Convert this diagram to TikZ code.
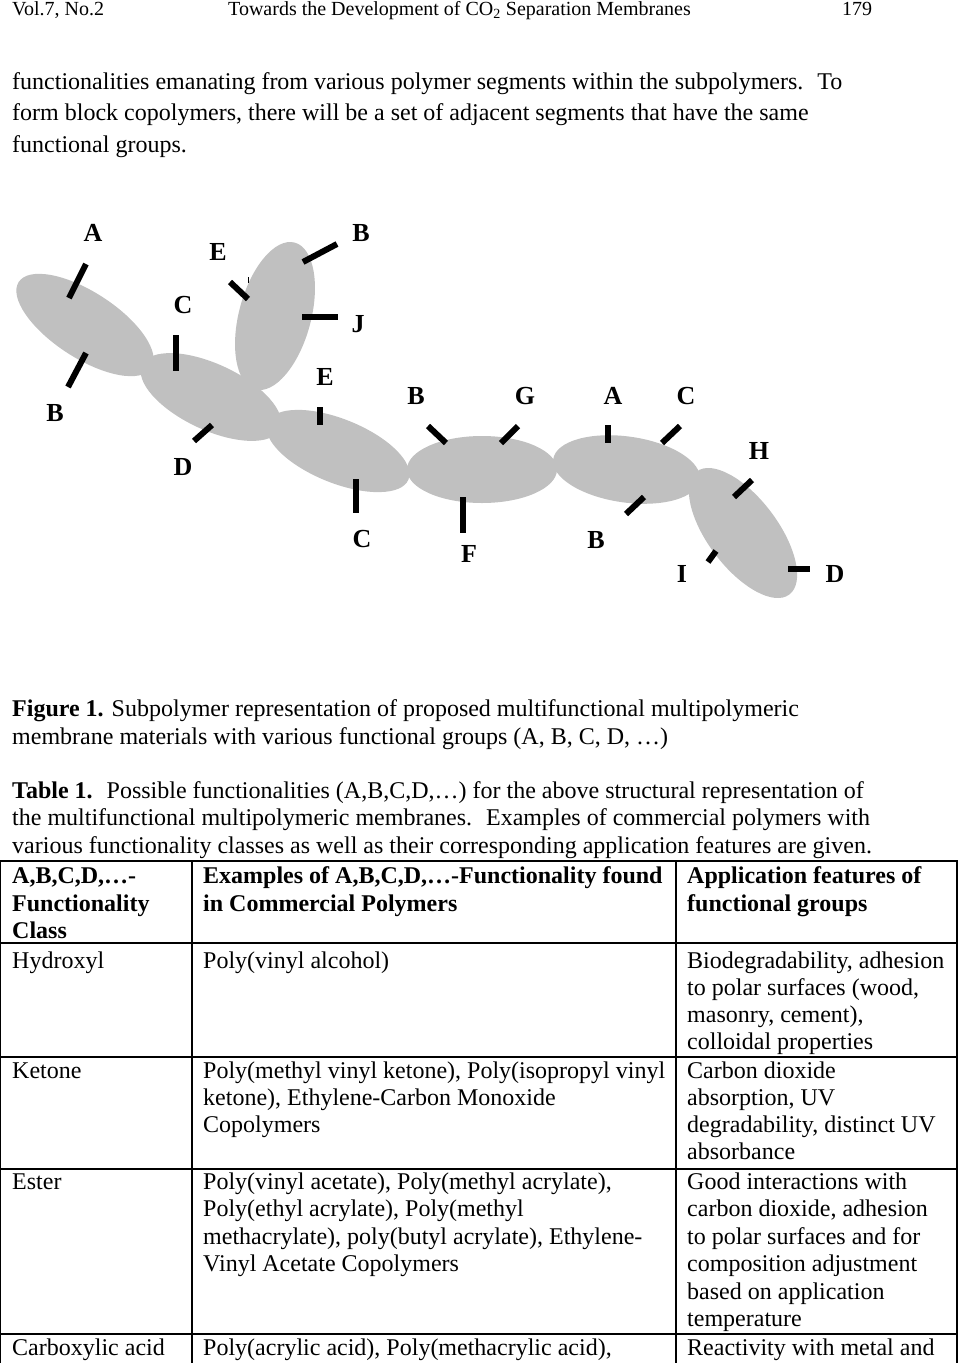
\documentclass[tikz,border=0pt]{standalone}
\usepackage{fontspec}
\setmainfont{Liberation Serif}
\usetikzlibrary{shapes.geometric}
\definecolor{seggray}{HTML}{C0C0C0}
\tikzset{
  body/.style={anchor=base west, inner sep=0pt, font=\fontsize{24}{27}\selectfont},
  bodyb/.style={body, font=\fontsize{24}{27}\selectfont\bfseries},
  hdr/.style={anchor=base west, inner sep=0pt, font=\fontsize{20}{23}\selectfont},
  lbl/.style={inner sep=0pt, font=\fontsize{26}{30}\selectfont\bfseries},
  seg/.style={ellipse, fill=seggray, draw=none, inner sep=0pt},
  stick/.style={line width=6pt, black},
  tgrid/.style={line width=1.3pt, black},
}
\begin{document}
\begin{tikzpicture}[x=1pt,y=-1pt]
\useasboundingbox (0,0) rectangle (958,1363);
\fill[white] (0,0) rectangle (958,1363);

% header
\node[hdr] (h1) at (12,15) {Vol.7, No.2};
\node[hdr] (h2) at (228,15) {Towards the Development of CO\textsubscript{2} Separation Membranes};
\node[hdr] (h3) at (842,15) {179};

% paragraph
\node[body] (p1) at (12,89) {functionalities emanating from various polymer segments within the subpolymers.~ To};
\node[body] (p2) at (12,120) {form block copolymers, there will be a set of adjacent segments that have the same};
\node[body] (p3) at (12,152) {functional groups.};

% segments
\node[seg, minimum width=158pt, minimum height=66pt, rotate=-33] (e1) at (85,325) {};
\node[seg, minimum width=152pt, minimum height=66pt, rotate=-25] (e2) at (211,397) {};
\node[seg, minimum width=152pt, minimum height=72pt, rotate=75] (e3) at (275,316) {};
\node[seg, minimum width=152pt, minimum height=64pt, rotate=-22] (e4) at (338,451) {};
\node[seg, minimum width=150pt, minimum height=67pt] (e5) at (482,469.5) {};
\node[seg, minimum width=148pt, minimum height=66pt, rotate=-8] (e6) at (626.5,469.5) {};
\node[seg, minimum width=154pt, minimum height=70pt, rotate=-53] (e7) at (743,533) {};

% sticks
\draw[stick] (69,298) -- (86,264);
\draw[stick] (68,387) -- (86,353);
\draw[stick] (176,335) -- (176,371);
\draw[stick] (194,441) -- (212,425);
\draw[stick] (230,282) -- (248,299);
\draw[line width=0.8pt] (248,277) -- (248,283);
\draw[stick] (303,262) -- (337,244);
\draw[stick] (302,317) -- (338,317);
\draw[stick] (320,407) -- (320,425);
\draw[stick] (356,479) -- (356,513);
\draw[stick] (428,426) -- (446,443);
\draw[stick] (501,443) -- (518,426);
\draw[stick] (608,425) -- (608,443);
\draw[stick] (662,443) -- (680,426);
\draw[stick] (463,497) -- (463,533);
\draw[stick] (626,514) -- (644,497);
\draw[stick] (734,497) -- (752,480);
\draw[stick] (708,562) -- (716,551);
\draw[stick] (788,569) -- (810,569);

% labels
\node[lbl] (lA1) at (93,233) {A};
\node[lbl] (lE1) at (218,252) {E};
\node[lbl] (lB1) at (361,233) {B};
\node[lbl] (lC1) at (183,305) {C};
\node[lbl] (lJ) at (358,324) {J};
\node[lbl] (lE2) at (325,377) {E};
\node[lbl] (lB2) at (55,413) {B};
\node[lbl] (lD1) at (183,467) {D};
\node[lbl] (lB3) at (416,396) {B};
\node[lbl] (lG) at (525,396) {G};
\node[lbl] (lA2) at (613,396) {A};
\node[lbl] (lC2) at (686,396) {C};
\node[lbl] (lH) at (759,451) {H};
\node[lbl] (lC3) at (362,539) {C};
\node[lbl] (lF) at (469,554) {F};
\node[lbl] (lB4) at (596,540) {B};
\node[lbl] (lI) at (682,574) {I};
\node[lbl] (lD2) at (835,574) {D};

% captions
\node[body] (f1) at (12,716) {\textbf{Figure 1.} Subpolymer representation of proposed multifunctional multipolymeric};
\node[body] (f2) at (12,744) {membrane materials with various functional groups (A, B, C, D, …)};
\node[body] (t1) at (12,798) {\textbf{Table 1.}~ Possible functionalities (A,B,C,D,…) for the above structural representation of};
\node[body] (t2) at (12,825) {the multifunctional multipolymeric membranes.~ Examples of commercial polymers with};
\node[body] (t3) at (12,853) {various functionality classes as well as their corresponding application features are given.};

% table grid
\draw[tgrid] (0.7,1363) -- (0.7,861) -- (957,861) -- (957,1363);
\draw[tgrid] (192,861) -- (192,1363);
\draw[tgrid] (676,861) -- (676,1363);
\draw[tgrid] (0,943) -- (958,943);
\draw[tgrid] (0,1057) -- (958,1057);
\draw[tgrid] (0,1169) -- (958,1169);
\draw[tgrid] (0,1334) -- (958,1334);

% header row
\node[bodyb] (c11a) at (12,883) {A,B,C,D,…-};
\node[bodyb] (c11b) at (12,911) {Functionality};
\node[bodyb] (c11c) at (12,938) {Class};
\node[bodyb] (c12a) at (203,883) {Examples of A,B,C,D,…-Functionality found};
\node[bodyb] (c12b) at (203,911) {in Commercial Polymers};
\node[bodyb] (c13a) at (687,883) {Application features of};
\node[bodyb] (c13b) at (687,911) {functional groups};

% hydroxyl
\node[body] (c21) at (12,968) {Hydroxyl};
\node[body] (c22) at (203,968) {Poly(vinyl alcohol)};
\node[body] (c23a) at (687,968) {Biodegradability, adhesion};
\node[body] (c23b) at (687,995) {to polar surfaces (wood,};
\node[body] (c23c) at (687,1022) {masonry, cement),};
\node[body] (c23d) at (687,1049) {colloidal properties};

% ketone
\node[body] (c31) at (12,1078) {Ketone};
\node[body] (c32a) at (203,1078) {Poly(methyl vinyl ketone), Poly(isopropyl vinyl};
\node[body] (c32b) at (203,1105) {ketone), Ethylene-Carbon Monoxide};
\node[body] (c32c) at (203,1132) {Copolymers};
\node[body] (c33a) at (687,1078) {Carbon dioxide};
\node[body] (c33b) at (687,1105) {absorption, UV};
\node[body] (c33c) at (687,1132) {degradability, distinct UV};
\node[body] (c33d) at (687,1159) {absorbance};

% ester
\node[body] (c41) at (12,1189) {Ester};
\node[body] (c42a) at (203,1189) {Poly(vinyl acetate), Poly(methyl acrylate),};
\node[body] (c42b) at (203,1216) {Poly(ethyl acrylate), Poly(methyl};
\node[body] (c42c) at (203,1244) {methacrylate), poly(butyl acrylate), Ethylene-};
\node[body] (c42d) at (203,1271) {Vinyl Acetate Copolymers};
\node[body] (c43a) at (687,1189) {Good interactions with};
\node[body] (c43b) at (687,1216) {carbon dioxide, adhesion};
\node[body] (c43c) at (687,1244) {to polar surfaces and for};
\node[body] (c43d) at (687,1271) {composition adjustment};
\node[body] (c43e) at (687,1299) {based on application};
\node[body] (c43f) at (687,1326) {temperature};

% carboxylic
\node[body] (c51) at (12,1355) {Carboxylic acid};
\node[body] (c52) at (203,1355) {Poly(acrylic acid), Poly(methacrylic acid),};
\node[body] (c53) at (687,1355) {Reactivity with metal and};
\end{tikzpicture}
\end{document}
